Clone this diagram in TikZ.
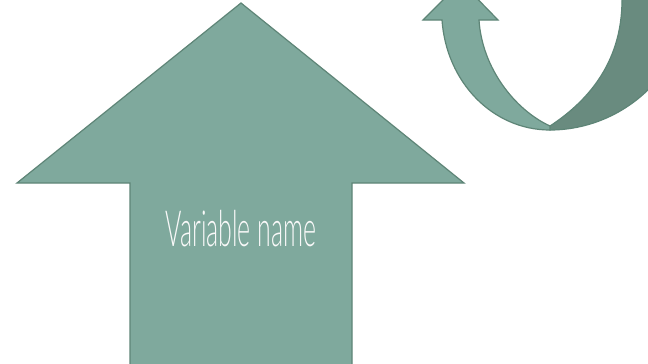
\documentclass[tikz,border=0pt]{standalone}
\usepackage{fontspec}
\IfFontExistsTF{Lato Light}
  {\newfontfamily\labelfont{Lato Light}[FakeStretch=0.5]}
  {\newfontfamily\labelfont{Lato}[FakeStretch=0.5]}
\definecolor{sage}{HTML}{7FA99D}
\definecolor{sageedge}{HTML}{5E8577}
\definecolor{sagedark}{HTML}{698B7F}
\tikzset{
  shapeface/.style={fill=sage, draw=sageedge, line width=1.2bp, line join=miter},
  backface/.style={fill=sagedark, draw=sageedge, line width=1.2bp},
  caption/.style={text=white!95!gray, font=\labelfont\fontsize{50}{54}\selectfont, inner sep=0pt}
}
\begin{document}
\begin{tikzpicture}[x=1bp, y=-1bp]
  \clip (0,0) rectangle (648,363);
  \fill[white] (0,0) rectangle (648,363);

  % large upward block arrow
  \draw[shapeface] (241,3) -- (464,183) -- (352,183) -- (352,375)
    -- (130,375) -- (130,183) -- (17,183) -- cycle;
  \node[caption] (label) at (241,229) {Variable name};

  % twisted U-turn ribbon: back (dark) half
  \draw[backface] (550,130) .. controls (590,130) and (635,112) .. (665,70)
    -- (700,-20) -- (623,-20) -- (622,0)
    .. controls (622,65) and (585,103) .. (550,126) -- cycle;

  % front (light) half with arrow head
  \draw[shapeface] (442,20) -- (423,20) -- (461,-18) -- (498,20) -- (479,20)
    .. controls (482,68) and (515,110) .. (550,126)
    -- (550,130)
    .. controls (492.5,130) and (446.3,82) .. (442,20) -- cycle;
\end{tikzpicture}
\end{document}
